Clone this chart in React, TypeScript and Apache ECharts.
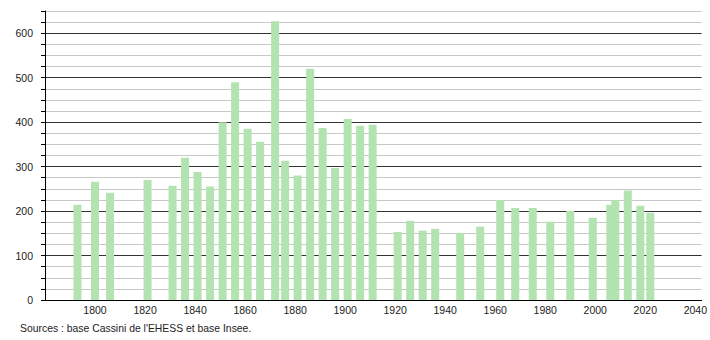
import React, { useEffect, useRef } from "react";
import * as echarts from "echarts";

const years = [
  1793, 1800, 1806, 1821, 1831, 1836, 1841, 1846, 1851, 1856, 1861, 1866, 1872,
  1876, 1881, 1886, 1891, 1896, 1901, 1906, 1911, 1921, 1926, 1931, 1936, 1946,
  1954, 1962, 1968, 1975, 1982, 1990, 1999, 2006, 2008, 2013, 2018, 2022,
];
const population = [
  214, 266, 241, 270, 257, 320, 288, 255, 400, 490, 385, 356, 627,
  313, 280, 520, 387, 297, 407, 392, 394, 153, 178, 156, 160, 151,
  165, 225, 207, 207, 176, 200, 185, 214, 225, 246, 212, 196,
];
const xTickLabels = [1800, 1820, 1840, 1860, 1880, 1900, 1920, 1940, 1960, 1980, 2000, 2020, 2040];
const yTickLabels = [0, 100, 200, 300, 400, 500, 600];
const sourceText = "Sources : base Cassini de l'EHESS et base Insee.";

export default function App() {
  const ref = useRef<HTMLDivElement>(null);
  useEffect(() => {
    if (!ref.current) return;
    const chart = echarts.init(ref.current, null, { renderer: "svg" });
    const font = "'Liberation Sans', Arial, Helvetica, sans-serif";
    chart.setOption({
      animation: false,
      backgroundColor: "#ffffff",
      grid: { left: 45, right: 8, top: 11, bottom: 40, containLabel: false },
      xAxis: {
        type: "value",
        min: 1780,
        max: 2042.5,
        interval: 20,
        axisLine: { show: true, lineStyle: { color: "#000", width: 1 } },
        axisTick: { show: false },
        splitLine: { show: false },
        axisLabel: {
          margin: 4,
          fontSize: 10.5,
          color: "#222",
          fontFamily: font,
          formatter: (v: number) => (xTickLabels.includes(v) ? String(v) : ""),
        },
      },
      yAxis: {
        type: "value",
        min: 0,
        max: 650,
        interval: 25,
        axisLine: { show: true, onZero: false, lineStyle: { color: "#000", width: 1 } },
        axisTick: { show: true, length: 4, lineStyle: { color: "#000" } },
        splitLine: {
          show: true,
          lineStyle: { color: ["#333333", "#c8c8c8", "#c8c8c8", "#c8c8c8"], width: 1 },
        },
        axisLabel: {
          margin: 12,
          fontSize: 10.5,
          color: "#222",
          fontFamily: font,
          formatter: (v: number) => (yTickLabels.includes(v) ? String(v) : ""),
        },
      },
      series: [
        {
          type: "bar",
          barWidth: 8,
          itemStyle: { color: "#b3e3b0" },
          data: years.map((y, i) => [y, population[i]]),
        },
      ],
      graphic: [
        {
          type: "text",
          left: 20,
          top: 323,
          style: { text: sourceText, fontSize: 10.4, fill: "#222", font: `10.4px ${font}` },
        },
      ],
    });
    return () => chart.dispose();
  }, []);
  return (
    <div
      ref={ref}
      style={{ position: "fixed", left: 0, top: 0, width: 710, height: 340 }}
    />
  );
}
